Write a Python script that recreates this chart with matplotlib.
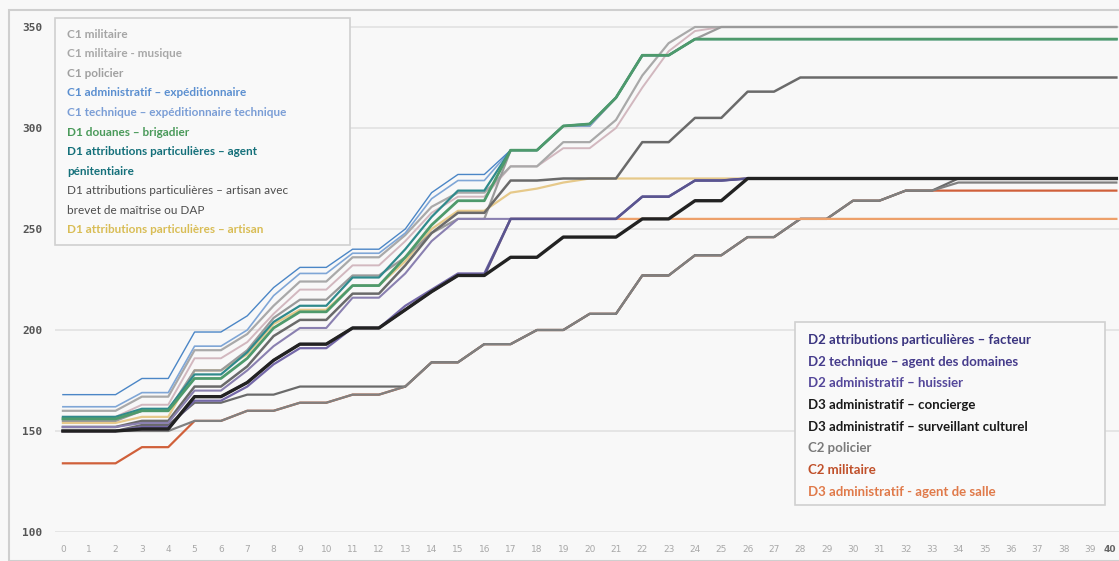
import numpy as np
import matplotlib.pyplot as plt
from matplotlib.patches import Rectangle

W, H = 1119, 561

# années d'ancienneté (axe horizontal)
annees = list(range(41))

# indices, une valeur par année
c1_militaire = [160, 160, 160, 167, 167, 190, 190, 198, 212, 224,
                224, 236, 236, 247, 261, 268, 268, 281, 281, 293,
                293, 304, 326, 342, 350, 350, 350, 350, 350, 350,
                350, 350, 350, 350, 350, 350, 350, 350, 350, 350, 350]
c1_musique = [157, 157, 157, 163, 163, 186, 186, 194, 208, 220,
              220, 232, 232, 244, 258, 266, 266, 281, 281, 290,
              290, 300, 320, 338, 348, 350, 350, 350, 350, 350,
              350, 350, 350, 350, 350, 350, 350, 350, 350, 350, 350]
c1_policier = [155, 155, 155, 160, 160, 180, 180, 190, 206, 215,
               215, 227, 227, 236, 248, 255, 255, 289, 289, 301,
               301, 315, 336, 336, 344, 350, 350, 350, 350, 350,
               350, 350, 350, 350, 350, 350, 350, 350, 350, 350, 350]
c1_admin = [168, 168, 168, 176, 176, 199, 199, 207, 221, 231,
            231, 240, 240, 250, 268, 277, 277, 289, 289, 301,
            302, 315, 336, 336, 344, 344, 344, 344, 344, 344,
            344, 344, 344, 344, 344, 344, 344, 344, 344, 344, 344]
c1_technique = [162, 162, 162, 169, 169, 192, 192, 200, 217, 228,
                228, 238, 238, 248, 265, 274, 274, 289, 289, 301,
                301, 315, 336, 336, 344, 344, 344, 344, 344, 344,
                344, 344, 344, 344, 344, 344, 344, 344, 344, 344, 344]
d1_douanes = [156, 156, 156, 160, 160, 176, 176, 186, 201, 209,
              209, 222, 222, 236, 252, 264, 264, 289, 289, 301,
              302, 315, 336, 336, 344, 344, 344, 344, 344, 344,
              344, 344, 344, 344, 344, 344, 344, 344, 344, 344, 344]
d1_penit = [157, 157, 157, 161, 161, 178, 178, 189, 204, 212,
            212, 226, 226, 240, 256, 269, 269, 289, 289, 301,
            302, 315, 336, 336, 344, 344, 344, 344, 344, 344,
            344, 344, 344, 344, 344, 344, 344, 344, 344, 344, 344]
d1_brevet = [152, 152, 152, 155, 155, 172, 172, 182, 197, 205,
             205, 218, 218, 232, 248, 258, 258, 274, 274, 275,
             275, 275, 293, 293, 305, 305, 318, 318, 325, 325,
             325, 325, 325, 325, 325, 325, 325, 325, 325, 325, 325]
d1_artisan = [154, 154, 154, 157, 157, 180, 180, 188, 203, 210,
              210, 222, 222, 234, 250, 259, 259, 268, 270, 273,
              275, 275, 275, 275, 275, 275, 275, 275, 275, 275,
              275, 275, 275, 275, 275, 275, 275, 275, 275, 275, 275]
d2_facteur = [150, 150, 150, 151, 151, 167, 167, 174, 185, 193,
              193, 201, 201, 210, 219, 227, 227, 255, 255, 255,
              255, 255, 266, 266, 274, 274, 275, 275, 275, 275,
              275, 275, 275, 275, 275, 275, 275, 275, 275, 275, 275]
d2_technique = [152, 152, 152, 154, 154, 170, 170, 180, 192, 201,
                201, 216, 216, 228, 244, 255, 255, 255, 255, 255,
                255, 255, 266, 266, 274, 274, 275, 275, 275, 275,
                275, 275, 275, 275, 275, 275, 275, 275, 275, 275, 275]
d2_huissier = [150, 150, 150, 152, 152, 165, 165, 172, 183, 191,
               191, 201, 201, 212, 220, 228, 228, 255, 255, 255,
               255, 255, 266, 266, 274, 274, 275, 275, 275, 275,
               275, 275, 275, 275, 275, 275, 275, 275, 275, 275, 275]
d3_concierge = [150, 150, 150, 151, 151, 167, 167, 174, 185, 193,
                193, 201, 201, 210, 219, 227, 227, 236, 236, 246,
                246, 246, 255, 255, 264, 264, 275, 275, 275, 275,
                275, 275, 275, 275, 275, 275, 275, 275, 275, 275, 275]
d3_surveillant = [150, 150, 150, 153, 153, 164, 164, 168, 168, 172,
                  172, 172, 172, 172, 184, 184, 193, 193, 200, 200,
                  208, 208, 227, 227, 237, 237, 246, 246, 255, 255,
                  264, 264, 269, 269, 275, 275, 275, 275, 275, 275, 275]
c2_policier = [150, 150, 150, 150, 150, 155, 155, 160, 160, 164,
               164, 168, 168, 172, 184, 184, 193, 193, 200, 200,
               208, 208, 227, 227, 237, 237, 246, 246, 255, 255,
               264, 264, 269, 269, 273, 273, 273, 273, 273, 273, 273]
c2_militaire = [134, 134, 134, 142, 142, 155, 155, 160, 160, 164,
                164, 168, 168, 172, 184, 184, 193, 193, 200, 200,
                208, 208, 227, 227, 237, 237, 246, 246, 255, 255,
                264, 264, 269, 269, 269, 269, 269, 269, 269, 269, 269]
d3_agent_salle = [150, 150, 150, 151, 151, 167, 167, 174, 185, 193,
                  193, 201, 201, 210, 219, 227, 227, 255, 255, 255,
                  255, 255, 255, 255, 255, 255, 255, 255, 255, 255,
                  255, 255, 255, 255, 255, 255, 255, 255, 255, 255, 255]

# (libellé, données, couleur, épaisseur) dans l'ordre de tracé
series = [
    ("C2 militaire", c2_militaire, "#d0603a", 1.6),
    ("D3 administratif – surveillant culturel", d3_surveillant, "#6a6a6a", 1.6),
    ("C2 policier", c2_policier, "#808080", 1.6),
    ("D3 administratif - agent de salle", d3_agent_salle, "#eda06a", 1.6),
    ("D1 attributions particulières – artisan", d1_artisan, "#e6c98a", 1.6),
    ("C1 militaire - musique", c1_musique, "#d2b8bf", 1.4),
    ("C1 militaire", c1_militaire, "#a9a9a9", 1.6),
    ("C1 policier", c1_policier, "#9a9a9a", 1.6),
    ("C1 technique – expéditionnaire technique", c1_technique, "#7fa6d6", 1.2),
    ("C1 administratif – expéditionnaire", c1_admin, "#4b86c6", 1.0),
    ("D1 attributions particulières – agent pénitentiaire", d1_penit, "#2f8a8c", 1.6),
    ("D1 douanes – brigadier", d1_douanes, "#4e9a6c", 2.0),
    ("D1 attributions particulières – artisan avec brevet de maîtrise ou DAP", d1_brevet, "#6a6a6a", 1.8),
    ("D2 technique – agent des domaines", d2_technique, "#8a80b0", 1.5),
    ("D2 administratif – huissier", d2_huissier, "#7468a8", 1.6),
    ("D2 attributions particulières – facteur", d2_facteur, "#5a5590", 1.8),
    ("D3 administratif – concierge", d3_concierge, "#222222", 2.4),
]

fig = plt.figure(figsize=(W / 100, H / 100), dpi=100, facecolor="#f8f8f8")
ax = fig.add_axes([55 / W, (H - 532) / H, (W - 55) / W, 520 / H])
ax.set_facecolor("#f8f8f8")

for nom, vals, col, lw in series:
    ax.plot(annees, vals, color=col, lw=lw, label=nom)

ax.set_xlim(-0.3, 40.1)
ax.set_ylim(100, 100 + 520 / 2.02)
ax.set_yticks([100, 150, 200, 250, 300, 350])
ax.set_yticklabels(["100", "150", "200", "250", "300", "350"],
                   fontfamily="DejaVu Sans Mono", fontweight="bold",
                   fontsize=8, color="#555555")
ax.set_xticks(annees)
ax.set_xticklabels([str(a) for a in annees], fontsize=6.5, color="#a8a8a8")
dernier = ax.get_xticklabels()[-1]
dernier.set_ha("right")
dernier.set_color("#666666")
dernier.set_fontweight("bold")
ax.tick_params(axis="y", length=0, pad=9)
ax.tick_params(axis="x", length=0, pad=9)
ax.grid(axis="y", color="#e2e2e2", lw=1.2)
ax.set_axisbelow(True)
for s in ax.spines.values():
    s.set_visible(False)

# cadre du graphique
fig.patches.append(Rectangle((9 / W, 0), 1, (H - 10) / H, transform=fig.transFigure,
                             fill=False, ec="#cfcfcf", lw=1.5))


def px(x, y):
    return x / W, 1 - y / H


# légende de gauche
fig.patches.append(Rectangle(px(55, 245), 295 / W, 227 / H, transform=fig.transFigure,
                             fc="#f9f9f9", ec="#d0d0d0", lw=1.2, zorder=5))
legende_gauche = [
    (["C1 militaire"], "#a5a5a5", "bold"),
    (["C1 militaire - musique"], "#a8a8a8", "bold"),
    (["C1 policier"], "#a0a0a0", "bold"),
    (["C1 administratif – expéditionnaire"], "#5b8fd0", "bold"),
    (["C1 technique – expéditionnaire technique"], "#7b9ed6", "bold"),
    (["D1 douanes – brigadier"], "#4a9a5a", "bold"),
    (["D1 attributions particulières – agent", "pénitentiaire"], "#14707a", "bold"),
    (["D1 attributions particulières – artisan avec", "brevet de maîtrise ou DAP"], "#4d4d4d", "normal"),
    (["D1 attributions particulières – artisan"], "#d9bd55", "bold"),
]
y = 34
for lignes, col, poids in legende_gauche:
    for l in lignes:
        fig.text(*px(67, y), l, color=col, fontsize=8.5, fontfamily="Lato",
                 fontweight=poids, va="center", ha="left", zorder=6)
        y += 19.6

# légende de droite
fig.patches.append(Rectangle(px(795, 505), 310 / W, 183 / H, transform=fig.transFigure,
                             fc="#f9f9f9", ec="#d0d0d0", lw=1.2, zorder=5))
legende_droite = [
    ("D2 attributions particulières – facteur", "#3b3580"),
    ("D2 technique – agent des domaines", "#463c8c"),
    ("D2 administratif – huissier", "#54479a"),
    ("D3 administratif – concierge", "#1a1a1a"),
    ("D3 administratif – surveillant culturel", "#1a1a1a"),
    ("C2 policier", "#7a7a7a"),
    ("C2 militaire", "#c0502a"),
    ("D3 administratif - agent de salle", "#e07a4a"),
]
y = 340
for l, col in legende_droite:
    fig.text(*px(808, y), l, color=col, fontsize=9.5, fontfamily="Lato",
             fontweight="bold", va="center", ha="left", zorder=6)
    y += 21.7

fig.savefig("out.png", dpi=100, facecolor=fig.get_facecolor())
